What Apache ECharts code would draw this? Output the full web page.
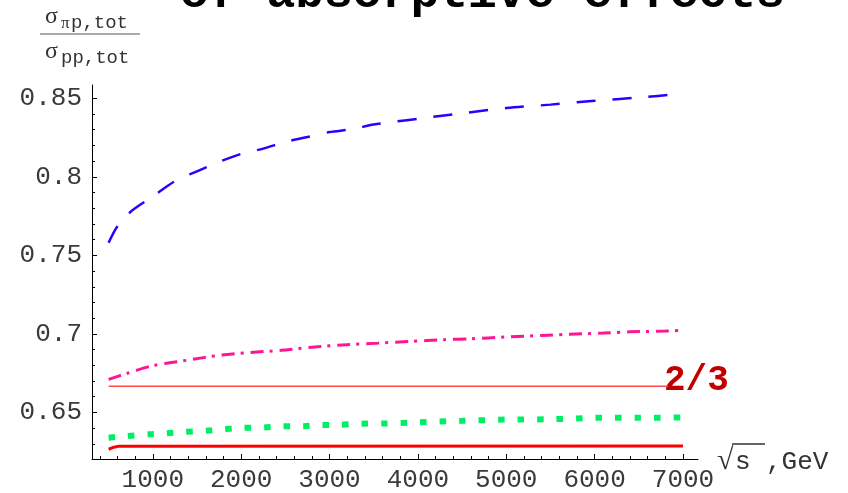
<!DOCTYPE html>
<html>
<head>
<meta charset="utf-8">
<script src="https://cdn.jsdelivr.net/npm/echarts@6/dist/echarts.min.js"></script>
<style>
html,body{margin:0;padding:0;background:#fff;}
#chart{width:848px;height:493px;}
</style>
</head>
<body>
<div id="chart"></div>
<script>
// ---- data ----
const blueX = [500, 600, 750, 1000, 1250, 1500, 1750, 2000, 2250, 2500, 2750, 3000, 3250, 3500, 3750, 4000, 4500, 5000, 5500, 6000, 6500, 7000];
const blueY = [0.758, 0.7685, 0.7778, 0.7875, 0.7972, 0.8035, 0.8095, 0.8146, 0.8180, 0.8222, 0.8254, 0.8285, 0.8303, 0.8333, 0.8352, 0.8370, 0.8405, 0.8438, 0.8460, 0.8485, 0.8505, 0.8530];

const pinkX = [500, 700, 1000, 1400, 1750, 2100, 2450, 2800, 3200, 3550, 3900, 4300, 4600, 5000, 5400, 5700, 6100, 6400, 6800, 7000];
const pinkY = [0.6710, 0.6747, 0.6797, 0.6833, 0.6863, 0.6881, 0.6895, 0.6915, 0.6931, 0.6941, 0.6951, 0.6963, 0.6969, 0.6980, 0.6990, 0.6997, 0.7005, 0.7013, 0.7018, 0.7022];

const greenX = [500, 700, 950, 1150, 1350, 1600, 1800, 2000, 2250, 2450, 2700, 2900, 3100, 3350, 3600, 4000, 4500, 5000, 5500, 6000, 6500, 7000];
const greenY = [0.6339, 0.6349, 0.6360, 0.6366, 0.6375, 0.6383, 0.6392, 0.6401, 0.6403, 0.6411, 0.6412, 0.6419, 0.6420, 0.6428, 0.6429, 0.6437, 0.6446, 0.6454, 0.6456, 0.6465, 0.6466, 0.6467];

const redX = [500, 560, 620, 7000];
const redY = [0.6265, 0.6278, 0.6285, 0.6286];

const refX = [500, 6830];
const refY = [2 / 3, 2 / 3];

const xMajorTicks = [1000, 2000, 3000, 4000, 5000, 6000, 7000];
const xMinorTicks = [400, 600, 800, 1200, 1400, 1600, 1800, 2200, 2400, 2600, 2800, 3200, 3400, 3600, 3800, 4200, 4400, 4600, 4800, 5200, 5400, 5600, 5800, 6200, 6400, 6600, 6800];
const yMajorTicks = [0.65, 0.7, 0.75, 0.8, 0.85];
const yMinorTicks = [0.63, 0.64, 0.66, 0.67, 0.68, 0.69, 0.71, 0.72, 0.73, 0.74, 0.76, 0.77, 0.78, 0.79, 0.81, 0.82, 0.83, 0.84];

const refLabel = '2/3';
const titleText = 'of absorptive effects';

function zip(xs, ys) { return xs.map((x, i) => [x, ys[i]]); }

const chart = echarts.init(document.getElementById('chart'));
const mono = '"Liberation Mono", "DejaVu Sans Mono", monospace';
const serif = '"Liberation Serif", "DejaVu Serif", serif';
const X_MIN = 312, X_MAX = 7170, Y_MIN = 0.6203, Y_MAX = 0.8585;

const axisLineStyle = { color: '#000', width: 1 };

chart.setOption({
  animation: false,
  backgroundColor: '#fff',
  grid: { left: 92, right: 150, top: 85, bottom: 34 },
  xAxis: [
    {
      type: 'value', min: X_MIN, max: X_MAX, position: 'bottom',
      axisLine: { show: true, onZero: false, lineStyle: axisLineStyle },
      axisTick: { show: true, inside: true, length: 5, customValues: xMajorTicks, lineStyle: { color: '#000' } },
      axisLabel: { show: true, customValues: xMajorTicks, formatter: v => String(v), fontFamily: mono, fontSize: 26, color: '#3a3a3a', margin: 8 },
      splitLine: { show: false }
    },
    {
      type: 'value', min: X_MIN, max: X_MAX, position: 'bottom',
      axisLine: { show: false },
      axisTick: { show: true, inside: true, length: 3, customValues: xMinorTicks, lineStyle: { color: '#000' } },
      axisLabel: { show: false },
      splitLine: { show: false }
    }
  ],
  yAxis: [
    {
      type: 'value', min: Y_MIN, max: Y_MAX, position: 'left',
      axisLine: { show: true, onZero: false, lineStyle: axisLineStyle },
      axisTick: { show: true, inside: true, length: 5, customValues: yMajorTicks, lineStyle: { color: '#000' } },
      axisLabel: { show: true, customValues: yMajorTicks, formatter: v => String(v), fontFamily: mono, fontSize: 26, color: '#3a3a3a', margin: 10 },
      splitLine: { show: false }
    },
    {
      type: 'value', min: Y_MIN, max: Y_MAX, position: 'left',
      axisLine: { show: false },
      axisTick: { show: true, inside: true, length: 3, customValues: yMinorTicks, lineStyle: { color: '#000' } },
      axisLabel: { show: false },
      splitLine: { show: false }
    }
  ],
  series: [
    {
      type: 'line', data: zip(blueX, blueY), showSymbol: false, smooth: 0.3,
      lineStyle: { color: '#2a00ff', width: 2.5, type: [19, 17], cap: 'butt' }
    },
    {
      type: 'line', data: zip(pinkX, pinkY), showSymbol: false, smooth: 0.3,
      lineStyle: { color: '#ff1493', width: 3, type: [13, 6, 3, 7], cap: 'butt' }
    },
    {
      type: 'line', data: zip(greenX, greenY), showSymbol: false, smooth: 0.3,
      lineStyle: { color: '#00ee66', width: 6, type: [6.5, 13], cap: 'butt' }
    },
    {
      type: 'line', data: zip(redX, redY), showSymbol: false,
      lineStyle: { color: '#ff0000', width: 3 }
    },
    {
      type: 'line', data: zip(refX, refY), showSymbol: false,
      lineStyle: { color: '#ff4a4a', width: 1.5 }
    }
  ],
  graphic: [
    { type: 'text', left: 180, top: -29, style: { text: titleText, font: 'bold 48px ' + mono, fill: '#000' } },
    // y-axis fraction label
    { type: 'text', x: 45, y: 17, style: { text: 'σ', font: '24px ' + serif, fill: '#333', verticalAlign: 'middle' } },
    { type: 'text', x: 61, y: 24, style: { text: 'π', font: '17px ' + serif, fill: '#333', verticalAlign: 'middle' } },
    { type: 'text', x: 71, y: 23, style: { text: 'p,tot', font: '19px ' + mono, fill: '#333', verticalAlign: 'middle' } },
    { type: 'line', shape: { x1: 40, y1: 34, x2: 140, y2: 34 }, style: { stroke: '#555', lineWidth: 1 } },
    { type: 'text', x: 45, y: 52, style: { text: 'σ', font: '24px ' + serif, fill: '#333', verticalAlign: 'middle' } },
    { type: 'text', x: 61, y: 58, style: { text: 'pp,tot', font: '19px ' + mono, fill: '#333', verticalAlign: 'middle' } },
    // x-axis name: sqrt(s), GeV
    { type: 'text', x: 717, y: 461, style: { text: '√', font: '30px ' + serif, fill: '#333', verticalAlign: 'middle' } },
    { type: 'line', shape: { x1: 732, y1: 444, x2: 765, y2: 444 }, style: { stroke: '#333', lineWidth: 1.5 } },
    { type: 'text', x: 735, y: 462, style: { text: 's', font: '26px ' + mono, fill: '#333', verticalAlign: 'middle' } },
    { type: 'text', x: 766, y: 462, style: { text: ',GeV', font: '26px ' + mono, fill: '#333', verticalAlign: 'middle' } },
    // 2/3 label
    { type: 'text', x: 664, y: 381, style: { text: refLabel, font: 'bold 36px ' + mono, fill: '#c00000', verticalAlign: 'middle' } }
  ]
});
</script>
</body>
</html>
